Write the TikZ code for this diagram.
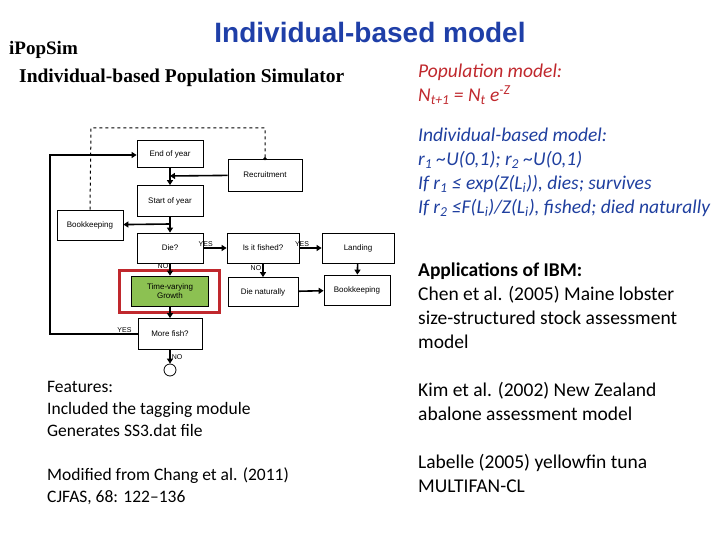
\documentclass[tikz,border=0pt]{standalone}
\usepackage{fontspec}
\setmainfont{Liberation Serif}
\newfontfamily\calfnt{Carlito}
\newfontfamily\ari{Liberation Sans}
\usetikzlibrary{arrows.meta}
\definecolor{tblue}{HTML}{1F3FA8}
\definecolor{ired}{HTML}{C0282D}
\definecolor{iblue}{HTML}{1F3F9F}
\definecolor{gr}{HTML}{8CC152}
\newcommand{\sbs}[1]{\textsubscript{#1}}
\begin{document}
\begin{tikzpicture}[x=1pt,y=-1pt,
 box/.style={draw,line width=0.8pt,font=\ari\fontsize{8}{9}\selectfont,inner sep=0pt,align=center},
 ar/.style={line width=1.6pt,-{Triangle[length=5pt,width=6pt]}},
 lab/.style={font=\ari\fontsize{7}{8}\selectfont,inner sep=1pt},
 rt/.style={font=\calfnt\fontsize{19.5}{24}\selectfont,anchor=north west,align=left,inner sep=0pt}]
\useasboundingbox (0,0) rectangle (720,540);
\node[font=\ari\bfseries\fontsize{28}{30}\selectfont,text=tblue] (title) at (370,32) {Individual-based model};
\node[font=\bfseries\fontsize{19}{20}\selectfont,anchor=west,inner sep=0pt] (ips) at (9,50) {iPopSim};
\node[font=\bfseries\fontsize{19.5}{20}\selectfont,anchor=west,inner sep=0pt] (sub) at (19,78) {Individual-based Population Simulator};
\node[rt,text=ired] (pm) at (418,64) {\itshape Population model:\\\itshape N\sbs{t+1} = N\sbs{t} e\textsuperscript{-Z}};
\node[rt,text=iblue] (ibm) at (418,128) {\itshape Individual-based model:\\\itshape r\sbs{1} \textasciitilde U(0,1); r\sbs{2} \textasciitilde U(0,1)\\\itshape If r\sbs{1} ≤ exp(Z(L\sbs{i})), dies; survives\\\itshape If r\sbs{2} ≤F(L\sbs{i})/Z(L\sbs{i}), fished; died naturally};
\node[rt] (app) at (418,263) {\textbf{Applications of IBM:}\\Chen et al. (2005) Maine lobster\\size-structured stock assessment\\model};
\node[rt] (kim) at (418,382) {Kim et al. (2002) New Zealand\\abalone assessment model};
\node[rt] (lab) at (418,454) {Labelle (2005) yellowfin tuna\\MULTIFAN-CL};
\node[rt,font=\calfnt\fontsize{17.5}{22}\selectfont] (feat) at (47,381) {Features:\\Included the tagging module\\Generates SS3.dat file};
\node[rt,font=\calfnt\fontsize{17.5}{22}\selectfont] (mod) at (47,467) {Modified from Chang et al. (2011)\\CJFAS, 68: 122–136};
% flowchart
\node[box,minimum width=66,minimum height=27] (eoy) at (170,154) {End of year};
\node[box,minimum width=74,minimum height=32] (rec) at (265,175) {Recruitment};
\node[box,minimum width=66,minimum height=31] (soy) at (170,201) {Start of year};
\node[box,minimum width=66,minimum height=30] (bk1) at (90,225) {Bookkeeping};
\node[box,minimum width=66,minimum height=30] (die) at (170,248) {Die?};
\node[box,minimum width=72,minimum height=30] (fish) at (263,248) {Is it fished?};
\node[box,minimum width=72,minimum height=30] (land) at (358,248) {Landing};
\node[box,minimum width=70,minimum height=29] (dn) at (263,292) {Die naturally};
\node[box,minimum width=66,minimum height=30] (bk2) at (357,290) {Bookkeeping};
\node[box,fill=gr,minimum width=77,minimum height=30] (gro) at (170,291) {Time-varying\\Growth};
\draw[ired,line width=3pt] (119.5,270.5) rectangle (219.5,312.5);
\node[box,minimum width=64,minimum height=31] (more) at (170,334) {More fish?};
\node[draw,circle,minimum size=12,inner sep=0pt,line width=0.8pt] (end) at (170,370) {};
\coordinate (c1) at (170,176);
\coordinate (c2) at (170,224);
\draw[ar] (eoy) -- (soy);
\draw[ar] (rec) -- (c1);
\draw[ar] (soy) -- (die);
\draw[ar] (c2) -- (bk1);
\draw[ar] (die) -- (gro) node[lab,pos=0.25,left] {NO};
\draw[ar] (gro) -- (more);
\draw[ar] (more) -- (end) node[lab,midway,right] {NO};
\draw[ar] (die) -- (fish) node[lab,pos=0.1,above] {YES};
\draw[ar] (fish) -- (land) node[lab,pos=0.12,above] {YES};
\draw[ar] (fish) -- (dn) node[lab,pos=0.35,left] {NO};
\draw[ar] (land) -- (bk2);
\draw[ar] (dn) -- (bk2);
\draw[ar] (more.west) -- (50,334) node[lab,pos=0.15,above] {YES} -- (50,155) -- (eoy.west|-0,155);
\draw[line width=1pt,dashed] (bk1.north) -- (91,128) -- (265,128) -- (rec.north);
\fill (rec.north) circle (1.8);
\end{tikzpicture}
\end{document}
